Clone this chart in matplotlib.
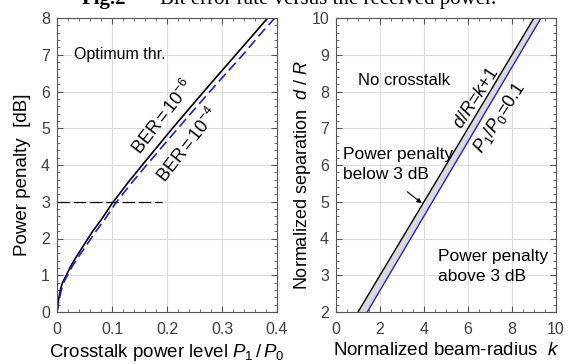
import numpy as np
import matplotlib
matplotlib.use('Agg')
import matplotlib.pyplot as plt
from matplotlib.ticker import MultipleLocator

plt.rcParams['font.family'] = ['Liberation Sans', 'DejaVu Sans']
plt.rcParams['mathtext.fontset'] = 'custom'
plt.rcParams['mathtext.rm'] = 'Liberation Sans'
plt.rcParams['mathtext.it'] = 'Liberation Sans:italic'

# left panel: power penalty vs crosstalk level
pp_ber6 = [0, 0.35, 0.6, 0.8, 1.0, 1.25, 1.5, 1.85, 2.2, 2.5, 2.95, 3.5, 4.0, 5.0, 6.0, 7.0, 7.6, 8.0]
xt_ber6 = [0, 0.003, 0.006, 0.01, 0.017, 0.025, 0.035, 0.05, 0.065, 0.08, 0.1, 0.128, 0.155, 0.21, 0.267, 0.325, 0.36, 0.383]
pp_ber4 = [0, 0.35, 0.6, 0.8, 1.0, 1.25, 1.5, 1.85, 2.2, 2.5, 2.95, 3.5, 4.0, 5.0, 6.0, 7.0, 7.6, 8.0]
xt_ber4 = [0, 0.004, 0.008, 0.012, 0.019, 0.028, 0.039, 0.055, 0.071, 0.086, 0.106, 0.135, 0.163, 0.22, 0.278, 0.338, 0.372, 0.396]
ref_3db = [0, 0.19]

# right panel: normalized separation vs beam radius
k_black = [1, 9]
d_black = [2, 10]
k_blue = [1.42, 9.32]
d_blue = [2, 10]

fig = plt.figure(figsize=(5.71, 3.64), dpi=100)
W, H = 571, 364

fig.text(82/W, 1-4/H, 'Fig.2', fontfamily='Liberation Serif', fontweight='bold',
         fontsize=15, va='baseline', ha='left')
fig.text(160/W, 1-4/H, 'Bit error rate versus the received power.',
         fontfamily='Liberation Serif', fontsize=15, va='baseline', ha='left')

ax1 = fig.add_axes([57/W, 52/H, 220/W, 294/H])
ax2 = fig.add_axes([336/W, 52/H, 220/W, 294/H])

for ax in (ax1, ax2):
    ax.grid(True, color='#dddddd', linewidth=0.8)
    ax.set_axisbelow(True)
    ax.tick_params(which='both', direction='in', top=True, right=True,
                   colors='#555555', labelcolor='#404040', labelsize=11.5)
    ax.tick_params(which='major', length=4)
    ax.tick_params(which='minor', length=2)
    ax.tick_params(axis='x', which='major', pad=7)
    ax.tick_params(axis='y', which='major', pad=5)
    for s in ax.spines.values():
        s.set_color('#555555')

ax1.plot(xt_ber6, pp_ber6, color='black', lw=1.2)
ax1.plot(xt_ber4, pp_ber4, color='#1f1fe0', lw=1.2, ls=(0, (6, 3)))
ax1.plot(ref_3db, [3, 3], color='black', lw=0.9, ls=(0, (10, 3)))
ax1.set_xlim(0, 0.4)
ax1.set_ylim(0, 8)
ax1.xaxis.set_minor_locator(MultipleLocator(0.02))
ax1.yaxis.set_major_locator(MultipleLocator(1))
ax1.yaxis.set_minor_locator(MultipleLocator(0.2))
ax1.set_xticks([0, 0.1, 0.2, 0.3, 0.4])
ax1.set_xticklabels(['0', '0.1', '0.2', '0.3', '0.4'])
ax1.set_xlabel('Crosstalk power level $P_1\\,/\\,P_0$', fontsize=13.5, labelpad=4)
ax1.set_ylabel('Power penalty  [dB]', fontsize=13.5)
ax1.yaxis.set_label_coords(-0.118, 0.466)
ax1.text(0.031, 7.0, 'Optimum thr.', fontsize=11.5, va='center', ha='left')
ax1.text(0.193, 5.3, 'BER$\\,$=$\\,$10$^{-6}$', fontsize=13, rotation=52,
         ha='center', va='center')
ax1.text(0.238, 4.55, 'BER$\\,$=$\\,$10$^{-4}$', fontsize=13, rotation=52,
         ha='center', va='center')

ax2.fill(k_black + k_blue[::-1], d_black + d_blue[::-1], color='#d9d9d9', lw=0)
ax2.plot(k_black, d_black, color='black', lw=1.0)
ax2.plot(k_blue, d_blue, color='#2020e0', lw=1.0)
ax2.set_xlim(0, 10)
ax2.set_ylim(2, 10)
ax2.xaxis.set_major_locator(MultipleLocator(2))
ax2.xaxis.set_minor_locator(MultipleLocator(0.5))
ax2.yaxis.set_major_locator(MultipleLocator(1))
ax2.yaxis.set_minor_locator(MultipleLocator(0.2))
ax2.set_xlabel('Normalized beam-radius  $k$', fontsize=13.5, labelpad=4)
ax2.set_ylabel('Normalized separation  $d$ / $R$', fontsize=13)
ax2.yaxis.set_label_coords(-0.105, 0.466)
ax2.text(1.0, 8.3, 'No crosstalk', fontsize=12, va='center', ha='left')
ax2.text(0.33, 6.02, 'Power penalty\nbelow 3 dB', fontsize=12.5, va='center',
         ha='left', linespacing=1.4)
ax2.text(4.64, 3.24, 'Power penalty\nabove 3 dB', fontsize=12.5, va='center',
         ha='left', linespacing=1.4)
ax2.annotate('', xy=(4.0, 4.91), xytext=(3.14, 5.32),
             arrowprops=dict(arrowstyle='-|>', color='black', lw=0.8,
                             mutation_scale=7))
ax2.text(6.4, 7.82, '$d/R$=$k$+1', fontsize=13, rotation=57,
         ha='center', va='center')
ax2.text(7.45, 7.28, '$P_1/P_0$=0.1', fontsize=13, rotation=57,
         ha='center', va='center')

fig.savefig('out.png', dpi=100)
